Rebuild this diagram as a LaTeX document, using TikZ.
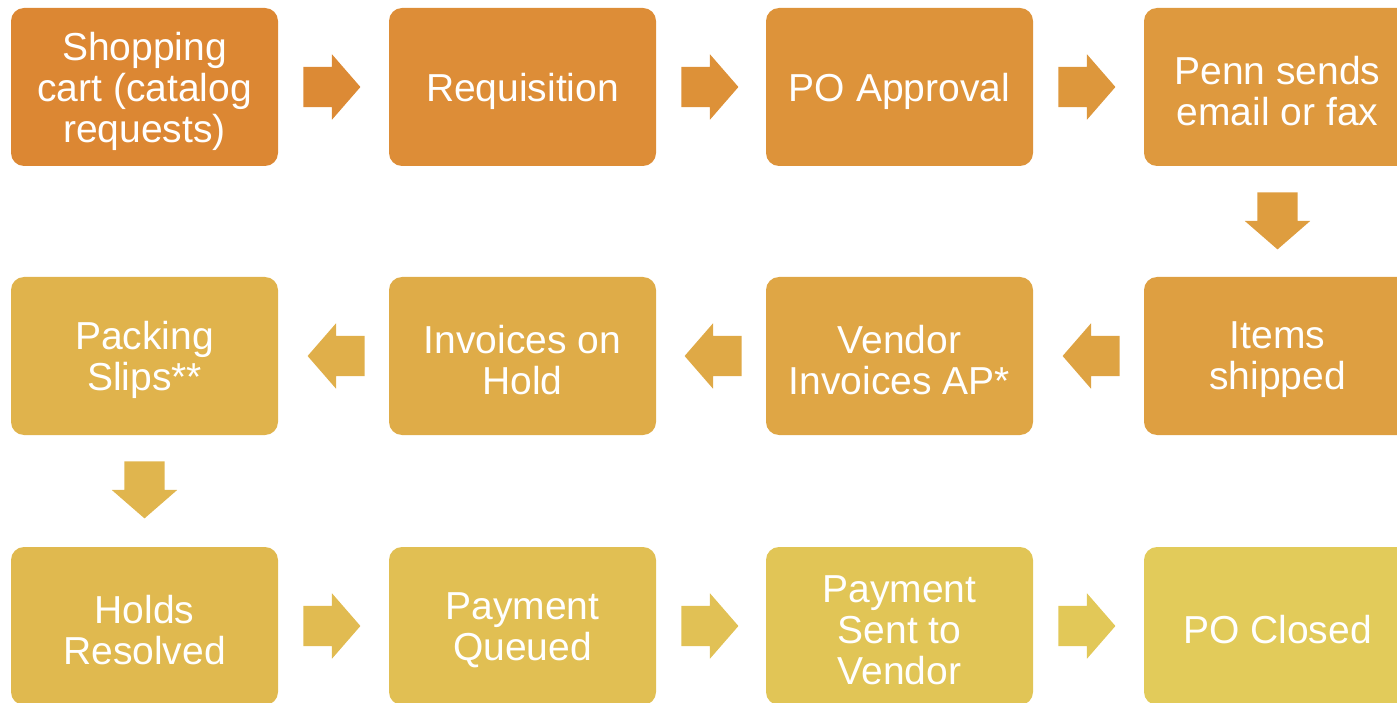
\documentclass[tikz,border=0pt]{standalone}
\usepackage{fontspec}
\setmainfont{Liberation Sans}
\usetikzlibrary{shapes.arrows,calc}
% end colours of the orange-to-yellow ramp
\definecolor{rampA}{HTML}{DC8733}
\definecolor{rampB}{HTML}{E2CB5A}

\begin{document}
\begin{tikzpicture}[x=1pt,y=-1pt,
  stepbox/.style={rounded corners=13pt, minimum width=267pt, minimum height=158pt,
    inner sep=0pt},
  steptext/.style={align=center, inner sep=0pt, text=white,
    font=\fontsize{39}{41}\selectfont},
  flow/.style={single arrow, draw=none, minimum height=57pt, minimum width=65pt,
    single arrow head extend=12.5pt, single arrow tip angle=98,
    inner xsep=0pt, inner ysep=20pt, anchor=tail}]
\useasboundingbox (0,0) rectangle (1397,703);

% row 1
\node[stepbox, fill=rampB!0!rampA]  (s1)  at (144.5,87)  {};
\node[stepbox, fill=rampB!9!rampA]  (s2)  at (522.5,87)  {};
\node[stepbox, fill=rampB!18!rampA] (s3)  at (899.5,87)  {};
\node[stepbox, fill=rampB!27!rampA] (s4)  at (1277.5,87) {};
% row 2 (runs right to left)
\node[stepbox, fill=rampB!36!rampA] (s5)  at (1277.5,356) {};
\node[stepbox, fill=rampB!45!rampA] (s6)  at (899.5,356)  {};
\node[stepbox, fill=rampB!55!rampA] (s7)  at (522.5,356)  {};
\node[stepbox, fill=rampB!64!rampA] (s8)  at (144.5,356)  {};
% row 3
\node[stepbox, fill=rampB!73!rampA] (s9)  at (144.5,626)  {};
\node[stepbox, fill=rampB!82!rampA] (s10) at (522.5,626)  {};
\node[stepbox, fill=rampB!91!rampA] (s11) at (899.5,626)  {};
\node[stepbox, fill=rampB!100!rampA] (s12) at (1277.5,626) {};

% step captions, set a little below the box centres
\node[steptext] (t1)  at ([yshift=-4pt]s1.center)  {Shopping\\cart (catalog\\requests)};
\node[steptext] (t2)  at ([yshift=-4pt]s2.center)  {Requisition};
\node[steptext] (t3)  at ([yshift=-4pt]s3.center)  {PO Approval};
\node[steptext] (t4)  at ([yshift=-4pt]s4.center)  {Penn sends\\email or fax};
\node[steptext] (t5)  at ([yshift=-4pt]s5.center)  {Items\\shipped};
\node[steptext] (t6)  at ([yshift=-4pt]s6.center)  {Vendor\\Invoices AP*};
\node[steptext] (t7)  at ([yshift=-4pt]s7.center)  {Invoices on\\Hold};
\node[steptext] (t8)  at ([yshift=-4pt]s8.center)  {Packing\\Slips**};
\node[steptext] (t9)  at ([yshift=-4pt]s9.center)  {Holds\\Resolved};
\node[steptext] (t10) at ([yshift=-4pt]s10.center) {Payment\\Queued};
\node[steptext] (t11) at ([yshift=-4pt]s11.center) {Payment\\Sent to\\Vendor};
\node[steptext] (t12) at ([yshift=-4pt]s12.center) {PO Closed};

% block arrows between the steps
\node[flow, fill=rampB!5!rampA]  (a1)  at ([xshift=25pt]s1.east) {};
\node[flow, fill=rampB!14!rampA] (a2)  at ([xshift=25pt]s2.east) {};
\node[flow, fill=rampB!23!rampA] (a3)  at ([xshift=25pt]s3.east) {};
\node[flow, fill=rampB!32!rampA, rotate=-90] (a4) at ([yshift=-26pt]s4.south) {};
\node[flow, fill=rampB!41!rampA, rotate=180] (a5) at ([xshift=-24pt]s5.west) {};
\node[flow, fill=rampB!50!rampA, rotate=180] (a6) at ([xshift=-24pt]s6.west) {};
\node[flow, fill=rampB!59!rampA, rotate=180] (a7) at ([xshift=-24pt]s7.west) {};
\node[flow, fill=rampB!68!rampA, rotate=-90] (a8) at ([yshift=-26pt]s8.south) {};
\node[flow, fill=rampB!77!rampA] (a9)  at ([xshift=25pt]s9.east) {};
\node[flow, fill=rampB!86!rampA] (a10) at ([xshift=25pt]s10.east) {};
\node[flow, fill=rampB!95!rampA] (a11) at ([xshift=25pt]s11.east) {};
\end{tikzpicture}
\end{document}
